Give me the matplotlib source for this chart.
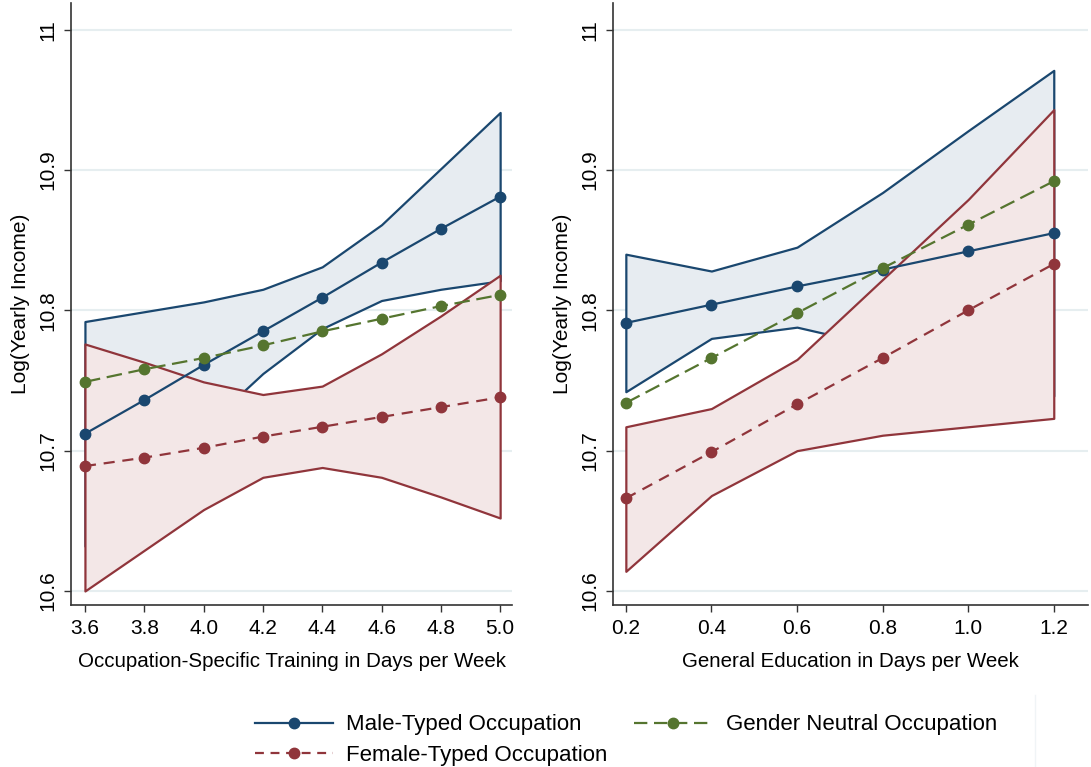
import matplotlib
matplotlib.use("Agg")
import matplotlib.pyplot as plt
from matplotlib.lines import Line2D

plt.rcParams['font.family'] = ['Liberation Sans', 'DejaVu Sans']

# ---- Data: left panel (occupation-specific training) ----
x_train = [3.6, 3.8, 4.0, 4.2, 4.4, 4.6, 4.8, 5.0]
male_train = [10.712, 10.736, 10.761, 10.785, 10.809, 10.834, 10.858, 10.881]
male_train_hi = [10.792, 10.799, 10.806, 10.815, 10.831, 10.861, 10.901, 10.941]
male_train_lo = [10.632, 10.673, 10.716, 10.755, 10.787, 10.807, 10.815, 10.821]
neutral_train = [10.749, 10.758, 10.766, 10.775, 10.785, 10.794, 10.803, 10.811]
female_train = [10.689, 10.695, 10.702, 10.710, 10.717, 10.724, 10.731, 10.738]
female_train_hi = [10.776, 10.763, 10.749, 10.740, 10.746, 10.769, 10.796, 10.825]
female_train_lo = [10.600, 10.629, 10.658, 10.681, 10.688, 10.681, 10.667, 10.652]

# ---- Data: right panel (general education) ----
x_edu = [0.2, 0.4, 0.6, 0.8, 1.0, 1.2]
male_edu = [10.791, 10.804, 10.817, 10.829, 10.842, 10.855]
male_edu_hi = [10.840, 10.828, 10.845, 10.884, 10.928, 10.971]
male_edu_lo = [10.742, 10.780, 10.788, 10.774, 10.756, 10.739]
neutral_edu = [10.734, 10.766, 10.798, 10.830, 10.861, 10.892]
female_edu = [10.666, 10.699, 10.733, 10.766, 10.800, 10.833]
female_edu_hi = [10.717, 10.730, 10.765, 10.822, 10.879, 10.943]
female_edu_lo = [10.614, 10.668, 10.700, 10.711, 10.717, 10.723]

y_ticks = [10.6, 10.7, 10.8, 10.9, 11.0]
y_ticklabels = ["10.6", "10.7", "10.8", "10.9", "11"]
labels = ["Male-Typed Occupation", "Female-Typed Occupation", "Gender Neutral Occupation"]

NAVY = "#1a476f"
MAROON = "#90353b"
GREEN = "#55752f"
NAVY_FILL = "#e7ecf1"
MAROON_FILL = "#f3e7e7"
GRID = "#e6eef0"

fig = plt.figure(figsize=(10.91, 7.67), dpi=100)
axL = fig.add_axes([71/1091, 162/767, 441/1091, 602/767])
axR = fig.add_axes([613/1091, 162/767, 475/1091, 602/767])

def draw(ax, x, m, mhi, mlo, n, f, fhi, flo, xlim, xticks, xlabel):
    ax.fill_between(x, mlo, mhi, facecolor=NAVY_FILL, edgecolor=NAVY, linewidth=1.6, zorder=2)
    ax.fill_between(x, flo, fhi, facecolor=MAROON_FILL, edgecolor=MAROON, linewidth=1.6, zorder=3)
    ax.plot(x, m, color=NAVY, lw=1.6, marker='o', ms=7.5, zorder=5)
    ax.plot(x, n, color=GREEN, lw=1.6, marker='o', ms=7.5, dashes=(7, 3), zorder=5)
    ax.plot(x, f, color=MAROON, lw=1.6, marker='o', ms=7.5, dashes=(5, 3.5), zorder=5)
    ax.set_xlim(*xlim)
    ax.set_ylim(10.59, 11.019)
    ax.set_xticks(xticks)
    ax.set_xticklabels([f"{v:.1f}" for v in xticks], fontsize=15)
    ax.set_yticks(y_ticks)
    ax.set_yticklabels(y_ticklabels, fontsize=15, rotation=90, va='center')
    ax.grid(axis='y', color=GRID, lw=1.5, zorder=0)
    ax.set_axisbelow(True)
    for s in ['top', 'right']:
        ax.spines[s].set_visible(False)
    for s in ['left', 'bottom']:
        ax.spines[s].set_color('#333333')
        ax.spines[s].set_linewidth(1.2)
    ax.tick_params(direction='out', length=5, width=1.0, color='#333333', pad=5)
    ax.set_xlabel(xlabel, fontsize=14.8, labelpad=10)
    ax.set_ylabel("Log(Yearly Income)", fontsize=15, labelpad=6)

draw(axL, x_train, male_train, male_train_hi, male_train_lo, neutral_train,
     female_train, female_train_hi, female_train_lo, (3.553, 5.04),
     x_train, "Occupation-Specific Training in Days per Week")
draw(axR, x_edu, male_edu, male_edu_hi, male_edu_lo, neutral_edu,
     female_edu, female_edu_hi, female_edu_lo, (0.17, 1.28),
     x_edu, "General Education in Days per Week")

handles = [
    Line2D([], [], color=NAVY, lw=1.6, marker='o', ms=7.5),
    Line2D([], [], color=MAROON, lw=1.6, marker='o', ms=7.5, dashes=(4, 3)),
    Line2D([], [], color=GREEN, lw=1.6, marker='o', ms=7.5, dashes=(6, 3)),
]
fig.legend(handles, labels, ncol=2, loc='center', bbox_to_anchor=(626/1091, 1 - 740/767),
           frameon=False, prop={'size': 16},
           handlelength=3.5, numpoints=1,
           columnspacing=1.2, labelspacing=0.42, handletextpad=0.6)

# faint legend-box edge visible in the reference
fig.add_artist(Line2D([1035/1091, 1035/1091], [0, 1 - 695/767], color='#f0f4f6', lw=1.0))

fig.savefig("out.png", dpi=100)
